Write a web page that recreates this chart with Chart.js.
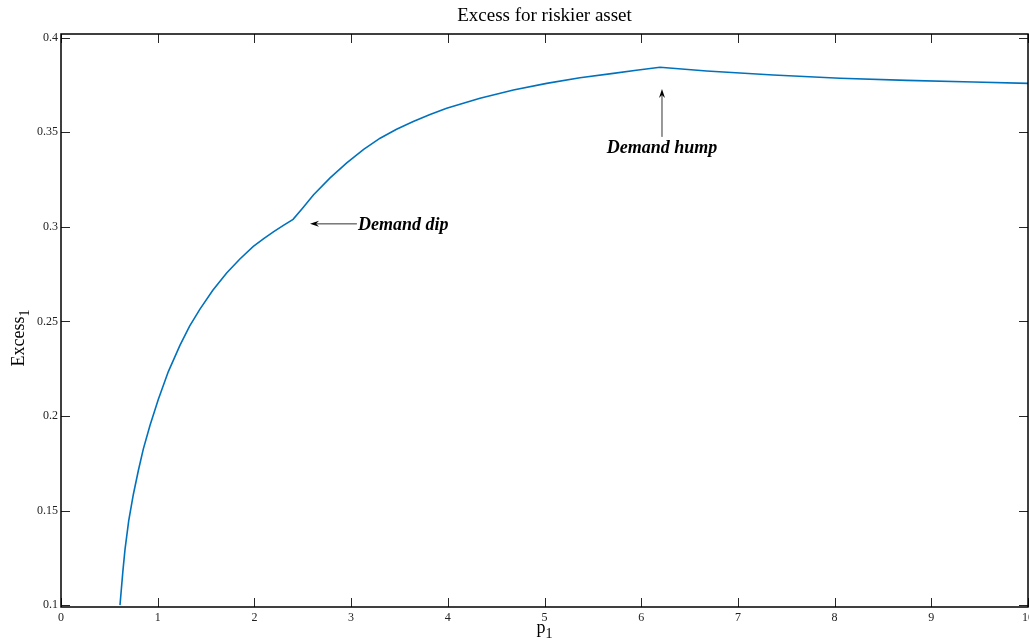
<!DOCTYPE html>
<html>
<head>
<meta charset="utf-8">
<script src="https://cdn.jsdelivr.net/npm/chart.js@4.4.0/dist/chart.umd.min.js"></script>
<style>
  html, body { margin: 0; padding: 0; background: #fff; }
</style>
</head>
<body>
<canvas id="chart_excess" width="1029" height="640"></canvas>
<script>
// excess demand for the riskier asset against its price p1
var p1_values = [0.61, 0.64, 0.662, 0.70, 0.748, 0.80, 0.851, 0.92, 1.006, 1.11, 1.231, 1.33,
  1.437, 1.57, 1.713, 1.85, 1.989, 2.1, 2.2, 2.30, 2.40,
  2.50, 2.61, 2.78, 2.955, 3.13, 3.30, 3.47, 3.643, 3.81, 3.988, 4.333, 4.678, 5.022, 5.367,
  5.712, 5.95, 6.194, 6.677, 7.366, 8.056, 8.745, 9.434, 10];
var excess_values = [0.100, 0.118, 0.1295, 0.1445, 0.1585, 0.1712, 0.1825, 0.195, 0.2087, 0.2235, 0.2375, 0.2475,
  0.2565, 0.2665, 0.2756, 0.283, 0.2897, 0.2939, 0.2975, 0.3008, 0.304,
  0.310, 0.3169, 0.3258, 0.3338, 0.3410, 0.3469, 0.3516, 0.3557, 0.3593, 0.3627, 0.368, 0.3724, 0.3759, 0.3789,
  0.3812, 0.3828, 0.3844, 0.3824, 0.3803, 0.3786, 0.3775, 0.3766, 0.3759];

var x_ticks = [0, 1, 2, 3, 4, 5, 6, 7, 8, 9, 10];
var y_ticks = [0.1, 0.15, 0.2, 0.25, 0.3, 0.35, 0.4];

var dip_note = { text: 'Demand dip', tail: [3.06, 0.3016], head: [2.575, 0.3016] };
var hump_note = { text: 'Demand hump', tail: [6.215, 0.3476], head: [6.215, 0.3729] };

var serif = "'Liberation Serif', 'Times New Roman', serif";

function arrow(ctx, x1, y1, x2, y2){
  var a = Math.atan2(y2 - y1, x2 - x1);
  ctx.strokeStyle = '#333';
  ctx.lineWidth = 1;
  ctx.beginPath();
  ctx.moveTo(x1, y1);
  ctx.lineTo(x2 - 6 * Math.cos(a), y2 - 6 * Math.sin(a));
  ctx.stroke();
  ctx.fillStyle = '#000';
  ctx.beginPath();
  ctx.moveTo(x2, y2);
  ctx.lineTo(x2 - 9 * Math.cos(a) + 3 * Math.sin(a), y2 - 9 * Math.sin(a) - 3 * Math.cos(a));
  ctx.lineTo(x2 - 6 * Math.cos(a), y2 - 6 * Math.sin(a));
  ctx.lineTo(x2 - 9 * Math.cos(a) - 3 * Math.sin(a), y2 - 9 * Math.sin(a) + 3 * Math.cos(a));
  ctx.closePath();
  ctx.fill();
}

// frame, inward ticks, titles and the two notes
var decorations = {
  id: 'decorations',
  afterDraw: function(chart){
    var ctx = chart.ctx, area = chart.chartArea;
    var xs = chart.scales.x, ys = chart.scales.y;
    ctx.save();

    ctx.strokeStyle = '#262626';
    ctx.lineWidth = 1;
    x_ticks.forEach(function(v){
      var px = Math.round(xs.getPixelForValue(v)) + 0.5;
      ctx.beginPath();
      ctx.moveTo(px, area.bottom); ctx.lineTo(px, area.bottom - 9);
      ctx.moveTo(px, area.top); ctx.lineTo(px, area.top + 9);
      ctx.stroke();
    });
    y_ticks.forEach(function(v){
      var py = Math.round(ys.getPixelForValue(v)) + 0.5;
      ctx.beginPath();
      ctx.moveTo(area.left, py); ctx.lineTo(area.left + 9, py);
      ctx.moveTo(area.right, py); ctx.lineTo(area.right - 9, py);
      ctx.stroke();
    });

    ctx.strokeStyle = '#000';
    ctx.lineWidth = 1.5;
    ctx.strokeRect(area.left, area.top, area.right - area.left, area.bottom - area.top);

    ctx.fillStyle = '#000';
    ctx.textAlign = 'center';
    ctx.textBaseline = 'middle';
    ctx.font = '19px ' + serif;
    ctx.fillText('Excess for riskier asset', (area.left + area.right) / 2, 16);

    // x axis title p1
    var cx = (area.left + area.right) / 2;
    ctx.font = '18px ' + serif;
    ctx.textAlign = 'right';
    ctx.fillText('p', cx + 1, 628);
    ctx.font = '14px ' + serif;
    ctx.textAlign = 'left';
    ctx.fillText('1', cx + 1, 634);

    // y axis title Excess1
    ctx.translate(19, (area.top + area.bottom) / 2);
    ctx.rotate(-Math.PI / 2);
    ctx.font = '18px ' + serif;
    ctx.textAlign = 'right';
    ctx.fillText('Excess', 4, 0);
    ctx.font = '14px ' + serif;
    ctx.textAlign = 'left';
    ctx.fillText('1', 4, 6);
    ctx.setTransform(1, 0, 0, 1, 0, 0);

    ctx.font = 'italic bold 18px ' + serif;
    var t = [xs.getPixelForValue(dip_note.tail[0]), ys.getPixelForValue(dip_note.tail[1])];
    var h = [xs.getPixelForValue(dip_note.head[0]), ys.getPixelForValue(dip_note.head[1])];
    arrow(ctx, t[0], t[1], h[0], h[1]);
    ctx.textAlign = 'left';
    ctx.fillStyle = '#000';
    ctx.fillText(dip_note.text, t[0] + 1, t[1] + 1);

    t = [xs.getPixelForValue(hump_note.tail[0]), ys.getPixelForValue(hump_note.tail[1])];
    h = [xs.getPixelForValue(hump_note.head[0]), ys.getPixelForValue(hump_note.head[1])];
    arrow(ctx, t[0], t[1], h[0], h[1]);
    ctx.textAlign = 'center';
    ctx.fillStyle = '#000';
    ctx.fillText(hump_note.text, t[0], t[1] + 11);

    ctx.restore();
  }
};

var points = p1_values.map(function(p, i){ return { x: p, y: excess_values[i] }; });

new Chart(document.getElementById('chart_excess').getContext('2d'), {
  type: 'scatter',
  data: {
    datasets: [{
      data: points,
      showLine: true,
      borderColor: '#0072BD',
      borderWidth: 1.6,
      pointRadius: 0,
      tension: 0,
      fill: false
    }]
  },
  options: {
    responsive: false,
    animation: false,
    layout: { padding: { top: 34, right: 1, left: 0, bottom: 0 } },
    plugins: {
      legend: { display: false },
      tooltip: { enabled: false },
      title: { display: false }
    },
    scales: {
      x: {
        type: 'linear',
        min: 0,
        max: 10,
        grid: { display: false, drawTicks: false },
        border: { display: false },
        afterBuildTicks: function(scale){ scale.ticks = x_ticks.map(function(v){ return { value: v }; }); },
        afterFit: function(scale){ scale.height = 33; scale.paddingLeft = 0; scale.paddingRight = 0; },
        ticks: { padding: 4, maxRotation: 0, autoSkip: false, color: '#222', font: { family: serif, size: 12 } }
      },
      y: {
        type: 'linear',
        min: 0.099,
        max: 0.402,
        grid: { display: false, drawTicks: false },
        border: { display: false },
        afterBuildTicks: function(scale){ scale.ticks = y_ticks.map(function(v){ return { value: v }; }); },
        afterFit: function(scale){ scale.width = 61; scale.paddingTop = 0; scale.paddingBottom = 0; },
        ticks: { padding: 3, autoSkip: false, color: '#222', font: { family: serif, size: 12 },
          callback: function(v){ return String(+v.toFixed(2)); } }
      }
    }
  },
  plugins: [decorations]
});
</script>
</body>
</html>
